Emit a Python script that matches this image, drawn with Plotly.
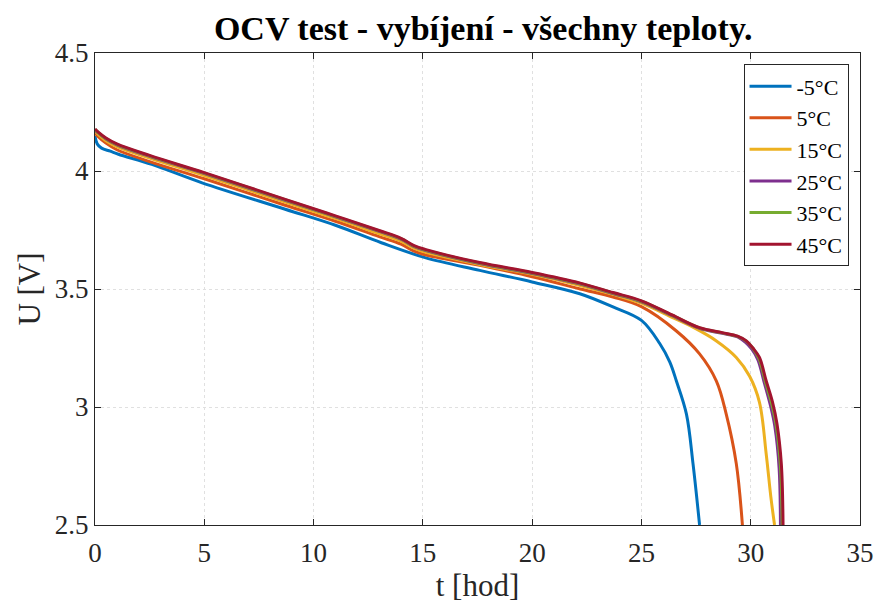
import plotly.graph_objects as go

# ---- data ----
labels = ["-5°C", "5°C", "15°C", "25°C", "35°C", "45°C"]
colors = ["#0072BD", "#D95319", "#EDB120", "#7E2F8E", "#77AC30", "#A2142F"]

t_m5 = [0, 0.1, 0.3, 0.7, 1.07, 2.6, 4.9, 8.7, 11, 13.1, 15.1, 17.6, 20, 22.18, 23.7, 25.0, 25.83, 26.3, 26.6, 27.06, 27.36, 27.66]
u_m5 = [4.148, 4.115, 4.097, 4.084, 4.071, 4.028, 3.95, 3.838, 3.77, 3.696, 3.633, 3.579, 3.530, 3.48, 3.424, 3.367, 3.27, 3.19, 3.11, 2.97, 2.76, 2.5]

t_5 = [0, 0.15, 0.5, 1, 2.5, 5, 8.7, 11, 13, 14, 14.6, 15.1, 17.6, 20, 22.2, 23.7, 25, 26.6, 27.66, 28.43, 28.88, 29.34, 29.62]
u_5 = [4.162, 4.145, 4.118, 4.09, 4.04, 3.967, 3.855, 3.787, 3.722, 3.69, 3.66, 3.645, 3.60, 3.552, 3.50, 3.466, 3.425, 3.322, 3.225, 3.11, 2.97, 2.76, 2.5]

t_15 = [0, 0.15, 0.5, 1, 2.5, 5, 8.7, 11, 13, 14, 14.6, 15.1, 17.6, 20, 22.2, 23.7, 25, 26.4, 27.4, 28.43, 29.34, 29.95, 30.4, 30.71, 30.92, 31.09]
u_15 = [4.17, 4.155, 4.128, 4.103, 4.055, 3.981, 3.868, 3.799, 3.735, 3.703, 3.673, 3.657, 3.604, 3.562, 3.515, 3.477, 3.44, 3.38, 3.336, 3.28, 3.21, 3.13, 3.02, 2.80, 2.62, 2.5]

t_25 = [0, 0.15, 0.5, 1, 2.5, 5, 8.7, 11, 13, 14, 14.6, 15.1, 17.6, 20, 22.2, 23.7, 25, 26.4, 27.66, 28.7, 29.4, 29.75, 30.05, 30.33, 30.63, 30.92, 31.1, 31.3, 31.36]
u_25 = [4.175, 4.161, 4.136, 4.111, 4.062, 3.989, 3.876, 3.806, 3.744, 3.711, 3.68, 3.664, 3.608, 3.566, 3.521, 3.481, 3.446, 3.387, 3.333, 3.312, 3.297, 3.275, 3.245, 3.2, 3.1, 3.0, 2.92, 2.74, 2.5]

t_35 = [0, 0.15, 0.5, 1, 2.5, 5, 8.7, 11, 13, 14, 14.6, 15.1, 17.6, 20, 22.2, 23.7, 25, 26.4, 27.66, 28.7, 29.4, 29.8, 30.1, 30.38, 30.68, 30.97, 31.16, 31.36, 31.44]
u_35 = [4.177, 4.163, 4.138, 4.113, 4.064, 3.991, 3.878, 3.808, 3.746, 3.713, 3.682, 3.666, 3.61, 3.568, 3.523, 3.483, 3.448, 3.389, 3.335, 3.314, 3.299, 3.279, 3.249, 3.205, 3.105, 3.01, 2.925, 2.75, 2.5]

t_45 = [0, 0.15, 0.5, 1, 2.5, 5, 8.7, 11, 13, 14, 14.6, 15.1, 17.6, 20, 22.2, 23.7, 25, 26.4, 27.66, 28.7, 29.4, 29.8, 30.1, 30.4, 30.71, 31.0, 31.2, 31.4, 31.48]
u_45 = [4.178, 4.165, 4.14, 4.115, 4.066, 3.993, 3.88, 3.81, 3.748, 3.715, 3.684, 3.668, 3.612, 3.57, 3.525, 3.485, 3.45, 3.39, 3.336, 3.315, 3.30, 3.28, 3.25, 3.21, 3.11, 3.02, 2.93, 2.76, 2.5]

series_t = [t_m5, t_5, t_15, t_25, t_35, t_45]
series_u = [u_m5, u_5, u_15, u_25, u_35, u_45]

x_ticks = [0, 5, 10, 15, 20, 25, 30, 35]
y_ticks = [2.5, 3, 3.5, 4, 4.5]
y_ticktext = ["2.5", "3", "3.5", "4", "4.5"]

FONT = "Liberation Serif, Times New Roman, serif"
AX = "#262626"

fig = go.Figure()
for lab, col, tt, uu in zip(labels, colors, series_t, series_u):
    fig.add_trace(go.Scatter(
        x=tt, y=uu, mode="lines", name=lab,
        line=dict(color=col, width=3, shape="spline", smoothing=1.0),
    ))

axis_common = dict(
    showline=True, linecolor=AX, linewidth=1, mirror="ticks",
    ticks="inside", ticklen=6, tickcolor=AX, tickwidth=1,
    showgrid=True, gridcolor="#e0e0e0", griddash="dot", gridwidth=1,
    zeroline=False,
    tickfont=dict(family=FONT, size=27, color=AX),
)

fig.update_xaxes(
    range=[0, 35], tickmode="array", tickvals=x_ticks,
    ticklabelstandoff=4,
    title=dict(text="t [hod]", font=dict(family=FONT, size=31, color=AX), standoff=4),
    **axis_common,
)
fig.update_yaxes(
    range=[2.5, 4.5], tickmode="array", tickvals=y_ticks, ticktext=y_ticktext,
    title=dict(text="U [V]", font=dict(family=FONT, size=31, color=AX), standoff=4),
    **axis_common,
)

fig.update_layout(
    width=877, height=608,
    margin=dict(l=95, r=17, t=53, b=83, autoexpand=False),
    paper_bgcolor="white", plot_bgcolor="white",
    title=dict(text="<b>OCV test - vybíjení - všechny teploty.</b>",
               font=dict(family=FONT, size=34, color="black"),
               x=0.551, xanchor="center", y=0.953, yanchor="middle", yref="container"),
    legend=dict(
        x=0.985, y=0.976, xanchor="right", yanchor="top",
        bgcolor="white", bordercolor=AX, borderwidth=1,
        font=dict(family=FONT, size=22, color="black"),
        itemwidth=42, tracegroupgap=0,
    ),
    showlegend=True,
)

fig.write_html("out.html")
